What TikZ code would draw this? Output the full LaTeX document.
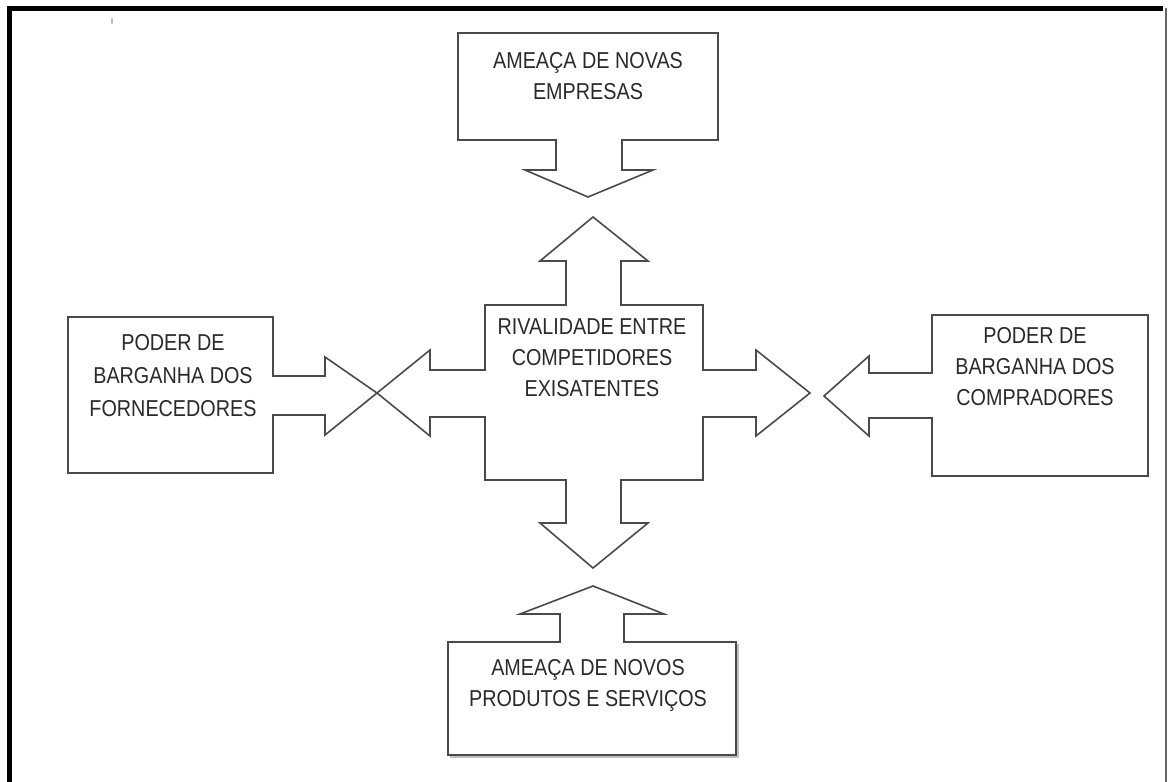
\documentclass[tikz,border=0pt]{standalone}
\usepackage{fontspec}
\setmainfont[FakeStretch=0.86]{Liberation Sans}
\definecolor{linegray}{HTML}{4A4A4A}
\definecolor{textgray}{HTML}{2A2A2A}
\tikzset{
  shapeline/.style={draw=linegray, line width=1.6pt, line join=miter, fill=white},
  shadowline/.style={draw=black!25, line width=1.6pt},
  label/.style={align=center, text=textgray, inner sep=0pt,
    font=\fontsize{23}{31}\selectfont},
}
\begin{document}
\begin{tikzpicture}[x=1pt,y=-1pt]
\useasboundingbox (0,0) rectangle (1168,782);
\fill[white] (0,0) rectangle (1168,782);
% outer frame
\draw[black, line width=5pt] (9.5,782) -- (9.5,8) -- (1163,8);
\draw[black!60, line width=2pt] (1166,8) -- (1166,782);
\draw[black!25, line width=1.5pt] (112,18) -- (112,24);

% top callout
\draw[shapeline] (458,33) -- (718,33) -- (718,140) -- (622,140) -- (622,170)
  -- (653,170) -- (588,197) -- (525,170) -- (556,170) -- (556,140) -- (458,140) -- cycle;
\node[label] (topt) at (588,76) {AMEAÇA DE NOVAS\\EMPRESAS};

% central cross
\draw[shapeline] (485,305) -- (566,305) -- (566,261) -- (540,261) -- (593,217)
  -- (648,261) -- (621,261) -- (621,305) -- (703,305) -- (703,370) -- (756,370)
  -- (756,350) -- (810,393) -- (756,436) -- (756,417) -- (703,417) -- (703,480)
  -- (621,480) -- (621,523) -- (648,523) -- (593,568) -- (540,523) -- (566,523)
  -- (566,480) -- (485,480) -- (485,417) -- (430,417) -- (430,436) -- (377,393)
  -- (430,350) -- (430,370) -- (485,370) -- cycle;
\node[label] (centert) at (592,358) {RIVALIDADE ENTRE\\COMPETIDORES\\EXISATENTES};

% left callout
\draw[shapeline, fill=none] (68,317) -- (273,317) -- (273,376) -- (325,376) -- (325,357)
  -- (377,393) -- (325,435) -- (325,415) -- (273,415) -- (273,473) -- (68,473) -- cycle;
\node[label, font=\fontsize{23}{33}\selectfont] (leftt) at (173,376) {PODER DE\\BARGANHA DOS\\FORNECEDORES};

% right callout
\draw[shapeline] (1148,315) -- (932,315) -- (932,373) -- (869,373) -- (869,356)
  -- (824,396) -- (869,436) -- (869,418) -- (932,418) -- (932,476) -- (1148,476) -- cycle;
\node[label] (rightt) at (1035,367) {PODER DE\\BARGANHA DOS\\COMPRADORES};

% bottom callout
\draw[shadowline] (450,757) -- (738,757) -- (738,644);
\draw[shapeline] (448,642) -- (560,642) -- (560,614) -- (520,614) -- (593,586)
  -- (664,614) -- (624,614) -- (624,642) -- (736,642) -- (736,755) -- (448,755) -- cycle;
\node[label] (bottomt) at (588,685) {AMEAÇA DE NOVOS\\PRODUTOS E SERVIÇOS};
\end{tikzpicture}
\end{document}
